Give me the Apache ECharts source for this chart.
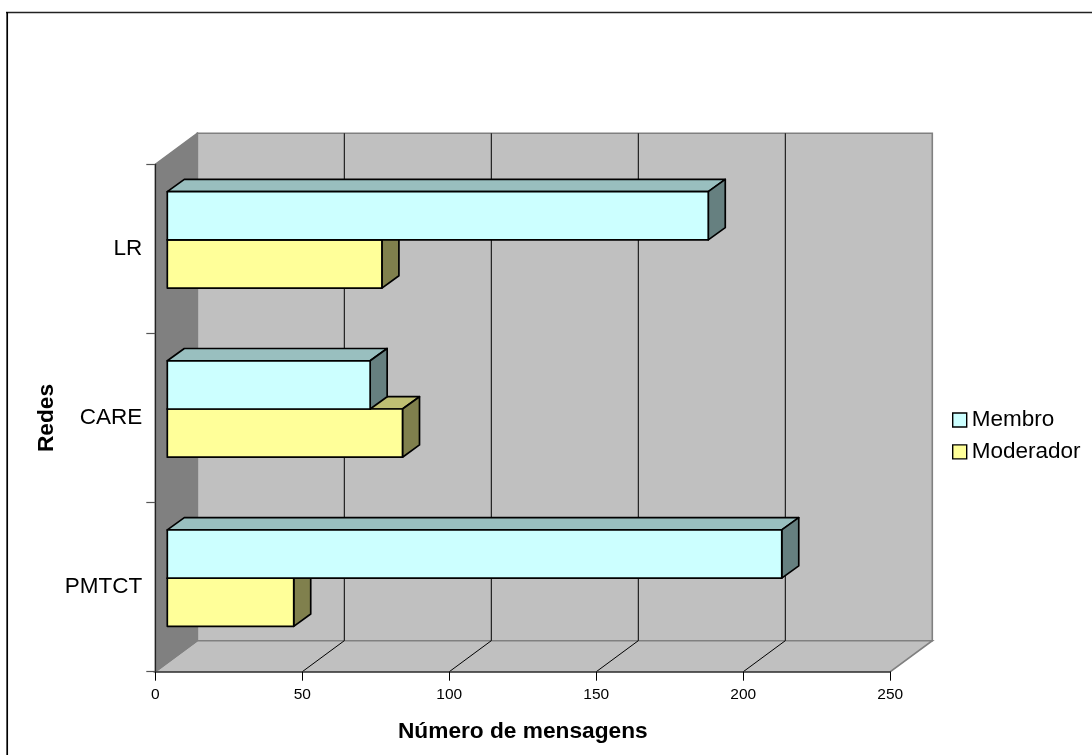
<!DOCTYPE html>
<html><head><meta charset="utf-8">
<style>html,body{margin:0;padding:0;background:#fff}#c{width:1092px;height:755px}</style>
<script src="https://cdn.jsdelivr.net/npm/echarts@6/dist/echarts.min.js"></script>
</head><body><div id="c"></div>
<script>
const categories = ['PMTCT', 'CARE', 'LR'];
const membro = [209, 69, 184];
const moderador = [43, 80, 73];
const xTicks = [50, 100, 150, 200];
const xMax = 250;

const font = '"Liberation Sans", Arial, sans-serif';
const DX = 42, DY = -31;          // full depth of the 3D box
const BX = 12, BY = -9;           // front of bars inside the box
const SX = 17, SY = -12.3;        // bar depth
const BAND = 0.285;               // bar thickness as share of category band

function barRender(offsetSign, front, top, side) {
  return function (params, api) {
    const cat = api.value(0), val = api.value(1);
    const p0 = api.coord([0, cat]), p1 = api.coord([val, cat]);
    const band = api.size([0, 1])[1];
    const h = band * BAND;
    const x0 = p0[0] + BX, x1 = p1[0] + BX;
    const yc = p0[1] + BY;
    const yA = offsetSign < 0 ? yc - h : yc;
    const yB = yA + h;
    const st = { stroke: '#000', lineWidth: 1.7, lineJoin: 'round' };
    const poly = (pts, fill) => ({ type: 'polygon', shape: { points: pts }, style: Object.assign({ fill }, st) });
    return { type: 'group', children: [
      poly([[x0, yA], [x0 + SX, yA + SY], [x1 + SX, yA + SY], [x1, yA]], top),
      poly([[x1, yA], [x1 + SX, yA + SY], [x1 + SX, yB + SY], [x1, yB]], side),
      poly([[x0, yA], [x1, yA], [x1, yB], [x0, yB]], front)
    ] };
  };
}

function wallRender(params, api) {
  const cs = params.coordSys;
  const l = cs.x, r = cs.x + cs.width, t = cs.y, bot = cs.y + cs.height;
  const edge = { stroke: '#808080', lineWidth: 1.6 };
  return { type: 'group', children: [
    { type: 'polygon', shape: { points: [[l + DX, t + DY], [r + DX, t + DY], [r + DX, bot + DY], [l + DX, bot + DY]] }, style: Object.assign({ fill: '#c0c0c0' }, edge) },
    { type: 'polygon', shape: { points: [[l, bot], [l + DX, bot + DY], [r + DX, bot + DY], [r, bot]] }, style: Object.assign({ fill: '#c0c0c0' }, edge) },
    { type: 'polygon', shape: { points: [[l, t], [l + DX, t + DY], [l + DX, bot + DY], [l, bot]] }, style: Object.assign({ fill: '#808080' }, edge) }
  ] };
}

function gridRender(params, api) {
  const cs = params.coordSys;
  const x = api.coord([api.value(0), 0])[0];
  const t = cs.y, bot = cs.y + cs.height;
  return { type: 'polyline', shape: { points: [[x, bot], [x + DX, bot + DY], [x + DX, t + DY]] },
    style: { fill: 'none', stroke: '#000', lineWidth: 1 } };
}

const chart = echarts.init(document.getElementById('c'), null, { renderer: 'canvas' });
chart.setOption({
  animation: false,
  backgroundColor: '#fff',
  grid: { left: 155.3, right: 1092 - 890.3, top: 164.3, bottom: 755 - 671.7, containLabel: false },
  xAxis: {
    type: 'value', min: 0, max: xMax, interval: 50, z: 2,
    name: 'Número de mensagens', nameLocation: 'middle', nameGap: 49,
    nameTextStyle: { fontFamily: font, fontSize: 22.7, fontWeight: 'bold', color: '#000' },
    axisLine: { show: true, lineStyle: { color: '#404040', width: 1.6 } },
    axisTick: { show: true, length: 9, lineStyle: { color: '#000', width: 1 } },
    axisLabel: { fontFamily: font, fontSize: 15.5, color: '#000', margin: 15 },
    splitLine: { show: false }
  },
  yAxis: {
    type: 'category', data: categories, z: 2,
    name: 'Redes', nameLocation: 'middle', nameGap: 97, nameRotate: 90, nameMoveOverlap: false,
    nameTextStyle: { fontFamily: font, fontSize: 22.7, fontWeight: 'bold', color: '#000' },
    axisLine: { show: true, lineStyle: { color: '#222', width: 1.2 } },
    axisTick: { show: true, length: 9, alignWithLabel: false, lineStyle: { color: '#555', width: 1.2 } },
    axisLabel: { fontFamily: font, fontSize: 22.5, color: '#000', margin: 13 }
  },
  legend: {
    left: 952, top: 408.5, padding: 0, orient: 'vertical', itemWidth: 14, itemHeight: 14, itemGap: 8.9,
    icon: 'rect',
    textStyle: { fontFamily: font, fontSize: 22.5, color: '#000' },
    data: [
      { name: 'Membro', itemStyle: { color: '#ccffff', borderColor: '#000', borderWidth: 1.4 } },
      { name: 'Moderador', itemStyle: { color: '#ffff99', borderColor: '#000', borderWidth: 1.4 } }
    ]
  },
  graphic: [
    { type: 'line', shape: { x1: 6, y1: 12.5, x2: 1092, y2: 12.5 }, style: { stroke: '#222', lineWidth: 1.7 }, silent: true },
    { type: 'line', shape: { x1: 7.2, y1: 12, x2: 7.2, y2: 755 }, style: { stroke: '#000', lineWidth: 1.7 }, silent: true }
  ],
  series: [
    { type: 'custom', name: 'walls', silent: true, z: 1, data: [[0]], renderItem: wallRender, encode: { x: 0 } },
    { type: 'custom', name: 'grid', silent: true, z: 1.5, data: xTicks.map(v => [v]), renderItem: gridRender, encode: { x: 0 } },
    { type: 'custom', name: 'Moderador', z: 3, itemStyle: { color: '#ffff99' },
      data: moderador.map((v, i) => [i, v]), encode: { y: 0, x: 1 },
      renderItem: barRender(1, '#ffff99', '#bfbf73', '#80804d') },
    { type: 'custom', name: 'Membro', z: 4, itemStyle: { color: '#ccffff' },
      data: membro.map((v, i) => [i, v]), encode: { y: 0, x: 1 },
      renderItem: barRender(-1, '#ccffff', '#99bfbf', '#668080') }
  ]
});
</script></body></html>
